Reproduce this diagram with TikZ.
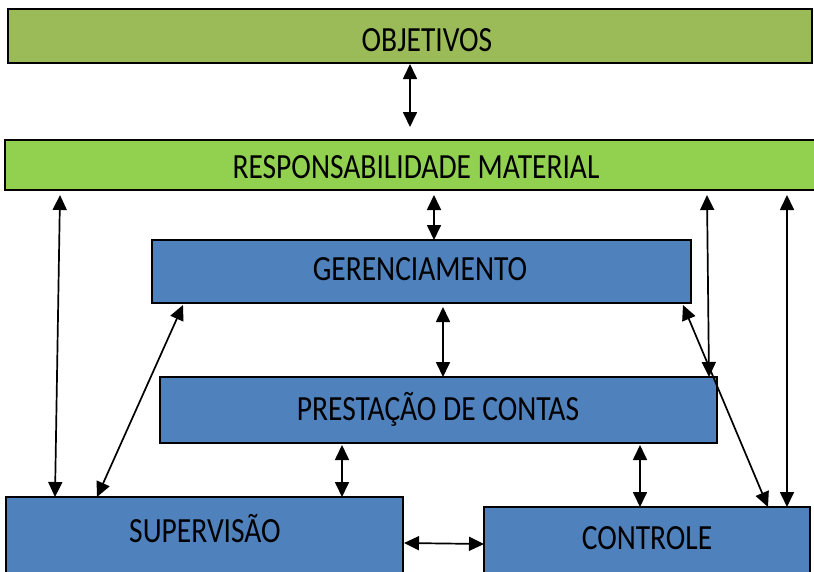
\documentclass[tikz,border=0pt]{standalone}
\usepackage{fontspec}
\setmainfont{Carlito}
\usetikzlibrary{arrows.meta}
\definecolor{objgreen}{HTML}{9BBB59}
\definecolor{respgreen}{HTML}{92D050}
\definecolor{boxblue}{HTML}{4F81BD}
\newcommand\talltext[1]{\scalebox{1}[1.2]{#1}}
\tikzset{
  box/.style={draw=black, line width=1.6pt, anchor=north west, inner sep=0pt, outer sep=0pt},
  lbl/.style={font=\fontsize{29.5}{34}\selectfont, text=black, inner sep=0pt},
  arr/.style={line width=1.7pt, {Triangle[length=15pt,width=14pt]}-{Triangle[length=15pt,width=14pt]}}
}
\begin{document}
\begin{tikzpicture}[x=1pt,y=-1pt]
\useasboundingbox (0,0) rectangle (814,571);
\clip (0,0) rectangle (814,571);
\node[box, fill=objgreen, minimum width=804pt, minimum height=54pt] (obj) at (8,9) {};
\node[lbl] (objtext) at (427,40) {\talltext{OBJETIVOS}};
\node[box, fill=respgreen, minimum width=830pt, minimum height=50pt] (resp) at (5,140) {};
\node[lbl] (resptext) at (416,167) {\talltext{RESPONSABILIDADE MATERIAL}};
\node[box, fill=boxblue, minimum width=539pt, minimum height=63pt] (ger) at (152,240) {};
\node[lbl] (gertext) at (420,269) {\talltext{GERENCIAMENTO}};
\node[box, fill=boxblue, minimum width=557pt, minimum height=66pt] (pre) at (160,377) {};
\node[lbl] (pretext) at (438,409) {\talltext{PRESTAÇÃO DE CONTAS}};
\node[box, fill=boxblue, minimum width=397pt, minimum height=100pt] (sup) at (6,497) {};
\node[lbl] (suptext) at (205,529) {\talltext{SUPERVISÃO}};
\node[box, fill=boxblue, minimum width=326pt, minimum height=100pt] (con) at (484,507) {};
\node[lbl] (context) at (647,538) {\talltext{CONTROLE}};
% arrows
\draw[arr] ([xshift=402pt,yshift=-1pt]obj.south west) -- ([xshift=405pt,yshift=13pt]resp.north west);
\draw[arr] ([xshift=55pt,yshift=-5pt]resp.south west) -- ([xshift=49pt]sup.north west);
\draw[arr] ([xshift=429pt,yshift=-5pt]resp.south west) -- ([xshift=282pt]ger.north west);
\draw[arr] ([xshift=702pt,yshift=-5pt]resp.south west) -- ([xshift=549pt]pre.north west);
\draw[arr] ([xshift=782pt,yshift=-5pt]resp.south west) -- ([xshift=303pt]con.north west);
\draw[arr] ([xshift=31pt,yshift=-2pt]ger.south west) -- ([xshift=91pt]sup.north west);
\draw[arr] ([xshift=291pt,yshift=-4pt]ger.south west) -- ([xshift=283pt]pre.north west);
\draw[arr] ([xshift=531pt,yshift=-2pt]ger.south west) -- ([xshift=284pt]con.north west);
\draw[arr] ([xshift=182pt,yshift=-2pt]pre.south west) -- ([xshift=336pt]sup.north west);
\draw[arr] ([xshift=480pt,yshift=-2pt]pre.south west) -- ([xshift=156pt]con.north west);
\draw[arr] ([xshift=1pt,yshift=-46pt]sup.north east) -- ([yshift=-37pt]con.north west);
\end{tikzpicture}
\end{document}
